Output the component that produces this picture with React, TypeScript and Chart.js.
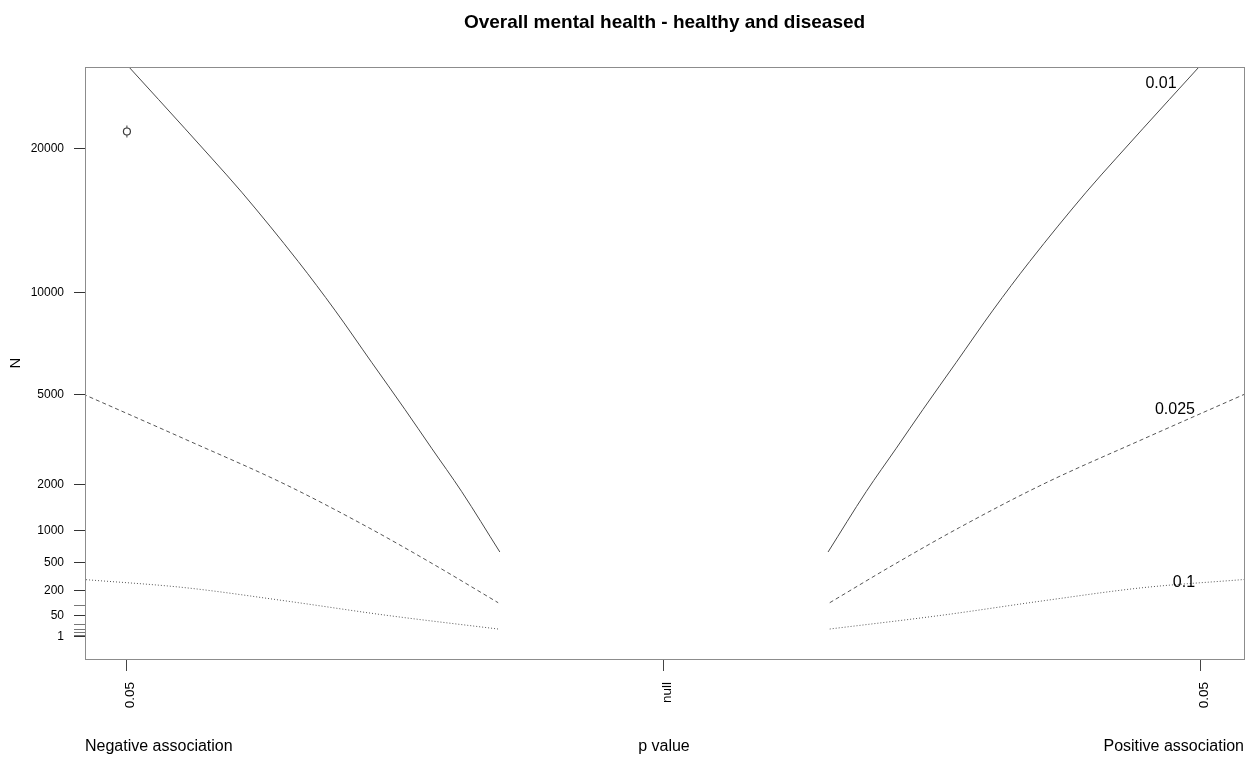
import React, { useEffect, useRef } from 'react';
import { Chart, registerables } from 'chart.js';

Chart.register(...registerables);

// ---- data ----
const chartTitle = 'Overall mental health - healthy and diseased';
const yAxisTitle = 'N';
const xAxisTitle = 'p value';
const leftSideLabel = 'Negative association';
const rightSideLabel = 'Positive association';

// x ticks (signed z-like p-value scale) and their labels
const xTickValues = [-1.96, 0, 1.96];
const xTickLabels = ['0.05', 'null', '0.05'];

// y ticks (sample size, drawn on a square-root scale)
const yTickValues = [1, 2, 5, 10, 20, 50, 100, 200, 500, 1000, 2000, 5000, 10000, 20000];
const yTickLabels = ['1', '', '', '', '', '50', '', '200', '500', '1000', '2000', '5000', '10000', '20000'];

// effect-size contours: |z| and N (same on both sides)
const contourNames = ['0.01', '0.025', '0.1'];
const contour001Z = [1.955, 1.844, 1.651, 1.541, 1.335, 1.201, 1.067, 0.945, 0.848, 0.738, 0.599];
const contour001N = [27225, 24150, 19210, 16590, 11860, 9006, 6384, 4396, 3047, 1823, 643];
const contour0025Z = [2.12, 1.748, 1.383, 1.079, 0.836, 0.605];
const contour0025N = [5006, 3340, 2009, 1050, 466, 116];
const contour01Z = [2.12, 1.748, 1.383, 1.018, 0.605];
const contour01N = [305, 228, 128, 52, 10.3];

// contour label anchor points (right side)
const contourLabelZ = [1.814, 1.865, 1.898];
const contourLabelN = [25630, 4380, 273];

// study
const studyZ = [-1.96];
const studyN = [21390];

const FONT = '"Liberation Sans", Arial, sans-serif';

function pts(zs: number[], ns: number[], sign: number) {
  const p = zs.map((z, i) => ({ x: sign * z, y: Math.sqrt(ns[i]) }));
  return p.sort((a, b) => a.x - b.x);
}

export default function App() {
  const ref = useRef<HTMLCanvasElement | null>(null);

  useEffect(() => {
    document.body.style.margin = '0';
    const canvas = ref.current;
    if (!canvas) return;

    const contours = [
      { z: contour001Z, n: contour001N, dash: [] as number[], color: '#4a4a4a' },
      { z: contour0025Z, n: contour0025N, dash: [4, 3], color: '#555555' },
      { z: contour01Z, n: contour01N, dash: [1, 2], color: '#555555' },
    ];

    const datasets: any[] = [];
    contours.forEach((c, ci) => {
      [-1, 1].forEach((sign) => {
        datasets.push({
          label: contourNames[ci] + (sign < 0 ? ' neg' : ' pos'),
          data: pts(c.z, c.n, sign),
          showLine: true,
          borderColor: c.color,
          borderWidth: 1,
          borderDash: c.dash,
          cubicInterpolationMode: 'monotone',
          pointRadius: 0,
          pointHoverRadius: 0,
          fill: false,
        });
      });
    });
    datasets.push({
      label: 'study',
      data: pts(studyZ, studyN, 1),
      showLine: false,
      pointStyle: 'circle',
      pointRadius: 3.5,
      borderColor: '#3a3a3a',
      backgroundColor: '#ffffff',
      borderWidth: 1.2,
    });
    datasets.push({
      label: 'study-bar',
      data: pts(studyZ, studyN, 1),
      showLine: false,
      pointStyle: 'line',
      rotation: 90,
      pointRadius: 6,
      borderColor: '#3a3a3a',
      borderWidth: 1,
    });

    const decor = {
      id: 'decor',
      afterDraw(chart: any) {
        const { ctx, chartArea: a, scales } = chart;
        ctx.save();
        // box
        ctx.strokeStyle = '#8c8c8c';
        ctx.lineWidth = 1;
        ctx.strokeRect(Math.round(a.left) + 0.5, Math.round(a.top) + 0.5, Math.round(a.right - a.left), Math.round(a.bottom - a.top));
        ctx.fillStyle = '#000';
        // title
        ctx.font = 'bold 19px ' + FONT;
        ctx.textAlign = 'center';
        ctx.textBaseline = 'alphabetic';
        ctx.fillText(chartTitle, (a.left + a.right) / 2, 28);
        // y title
        ctx.save();
        ctx.translate(16, (a.top + a.bottom) / 2);
        ctx.rotate(-Math.PI / 2);
        ctx.font = '15px ' + FONT;
        ctx.textAlign = 'center';
        ctx.textBaseline = 'middle';
        ctx.fillText(yAxisTitle, 0, 0);
        ctx.restore();
        // bottom texts
        ctx.font = '16px ' + FONT;
        ctx.textBaseline = 'alphabetic';
        ctx.textAlign = 'left';
        ctx.fillText(leftSideLabel, a.left, 751);
        ctx.textAlign = 'center';
        ctx.fillText(xAxisTitle, scales.x.getPixelForValue(0), 751);
        ctx.textAlign = 'right';
        ctx.fillText(rightSideLabel, a.right, 751);
        // contour labels
        ctx.font = '16px ' + FONT;
        ctx.textAlign = 'center';
        ctx.textBaseline = 'middle';
        contourNames.forEach((name, i) => {
          const px = scales.x.getPixelForValue(contourLabelZ[i]);
          const py = scales.y.getPixelForValue(Math.sqrt(contourLabelN[i]));
          ctx.fillText(name, px, py);
        });
        ctx.restore();
      },
    };

    const chart = new Chart(canvas, {
      type: 'scatter',
      data: { datasets },
      options: {
        responsive: false,
        animation: false,
        devicePixelRatio: 1,
        layout: { padding: { top: 67, right: 13, bottom: 0, left: 0 } },
        plugins: { legend: { display: false }, tooltip: { enabled: false }, title: { display: false } },
        scales: {
          x: {
            type: 'linear',
            min: -2.113,
            max: 2.117,
            afterBuildTicks: (s: any) => {
              s.ticks = xTickValues.map((v) => ({ value: v }));
            },
            afterFit: (s: any) => {
              s.height = 102;
            },
            ticks: {
              autoSkip: false,
              minRotation: 90,
              maxRotation: 90,
              padding: 11,
              labelOffset: 3,
              color: '#000',
              font: { family: FONT, size: 13.5 },
              callback: (_v: any, i: number) => xTickLabels[i],
            },
            grid: { drawOnChartArea: false, drawTicks: true, tickLength: 12, tickColor: '#444', tickWidth: 1 },
            border: { display: false },
          },
          y: {
            type: 'linear',
            min: -5.41,
            max: 164.8,
            afterBuildTicks: (s: any) => {
              s.ticks = yTickValues.map((n) => ({ value: Math.sqrt(n) }));
            },
            afterFit: (s: any) => {
              s.width = 85;
            },
            ticks: {
              autoSkip: false,
              padding: 10,
              color: '#000',
              font: { family: FONT, size: 12 },
              callback: (_v: any, i: number) => yTickLabels[i],
            },
            grid: {
              drawOnChartArea: false,
              drawTicks: true,
              tickLength: 11,
              tickWidth: 1,
              tickColor: (ctx: any) => (yTickLabels[ctx.index] ? '#333' : '#777'),
            },
            border: { display: false },
          },
        },
      },
      plugins: [decor],
    });

    return () => chart.destroy();
  }, []);

  return (
    <div style={{ width: 1257, height: 761 }}>
      <canvas ref={ref} width={1257} height={761} style={{ display: 'block' }} />
    </div>
  );
}
